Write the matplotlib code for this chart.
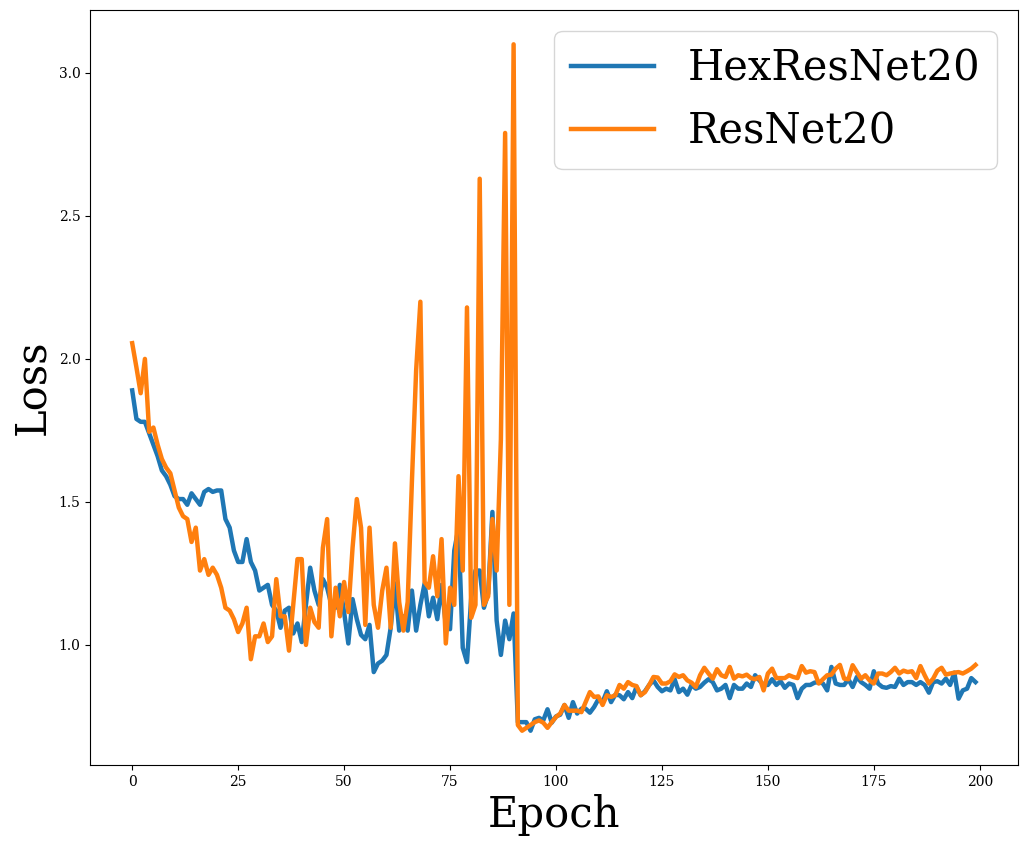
import matplotlib
matplotlib.use("Agg")
import matplotlib.pyplot as plt
import numpy as np

plt.rcParams['font.family'] = ['DejaVu Serif']

epochs = list(range(200))

hex_resnet20 = [
    1.89, 1.79, 1.78, 1.78, 1.74, 1.70, 1.66, 1.61, 1.59, 1.56,
    1.52, 1.51, 1.51, 1.49, 1.53, 1.51, 1.49, 1.535, 1.545, 1.535,
    1.54, 1.54, 1.44, 1.41, 1.33, 1.29, 1.29, 1.37, 1.29, 1.26,
    1.19, 1.20, 1.21, 1.14, 1.12, 1.06, 1.12, 1.13, 1.04, 1.075,
    1.01, 1.14, 1.27, 1.19, 1.14, 1.23, 1.20, 1.14, 1.13, 1.21,
    1.115, 1.005, 1.16, 1.09, 1.035, 1.02, 1.07, 0.905, 0.935, 0.945,
    0.965, 1.06, 1.215, 1.05, 1.10, 1.05, 1.19, 1.05, 1.14, 1.215,
    1.10, 1.165, 1.09, 1.21, 1.07, 1.055, 1.33, 1.41, 0.99, 0.94,
    1.165, 1.26, 1.26, 1.13, 1.18, 1.465, 1.085, 0.965, 1.085, 1.02,
    1.11, 0.73, 0.73, 0.73, 0.70, 0.74, 0.745, 0.736, 0.775, 0.728,
    0.75, 0.756, 0.79, 0.745, 0.80, 0.76, 0.777, 0.777, 0.763, 0.783,
    0.81, 0.80, 0.838, 0.80, 0.826, 0.824, 0.81, 0.835, 0.814, 0.853,
    0.824, 0.838, 0.86, 0.876, 0.853, 0.838, 0.847, 0.841, 0.88, 0.835,
    0.847, 0.826, 0.86, 0.847, 0.853, 0.868, 0.88, 0.87, 0.841, 0.847,
    0.86, 0.814, 0.86, 0.847, 0.847, 0.865, 0.853, 0.894, 0.876, 0.86,
    0.86, 0.88, 0.86, 0.873, 0.85, 0.865, 0.86, 0.814, 0.847, 0.86,
    0.86, 0.868, 0.87, 0.865, 0.841, 0.923, 0.865, 0.86, 0.86, 0.88,
    0.853, 0.888, 0.87, 0.86, 0.847, 0.908, 0.865, 0.853, 0.85, 0.856,
    0.853, 0.882, 0.86, 0.87, 0.87, 0.86, 0.87, 0.86, 0.833, 0.87,
    0.873, 0.865, 0.882, 0.86, 0.903, 0.812, 0.841, 0.847, 0.884, 0.87,
]

resnet20 = [
    2.055, 1.97, 1.88, 2.00, 1.745, 1.76, 1.70, 1.65, 1.62, 1.60,
    1.54, 1.48, 1.45, 1.44, 1.36, 1.41, 1.26, 1.30, 1.245, 1.27,
    1.245, 1.20, 1.13, 1.12, 1.09, 1.045, 1.075, 1.13, 0.95, 1.03,
    1.03, 1.075, 1.01, 1.03, 1.23, 1.10, 1.10, 0.98, 1.14, 1.30,
    1.30, 1.00, 1.13, 1.08, 1.06, 1.34, 1.44, 1.03, 1.20, 1.10,
    1.22, 1.115, 1.34, 1.51, 1.41, 1.07, 1.41, 1.14, 1.06, 1.19,
    1.27, 1.06, 1.355, 1.15, 1.05, 1.15, 1.57, 1.96, 2.20, 1.22,
    1.20, 1.31, 1.17, 1.37, 1.005, 1.20, 1.14, 1.59, 1.26, 2.18,
    1.095, 1.14, 2.63, 1.14, 1.17, 1.44, 1.26, 1.72, 2.79, 1.14,
    3.10, 0.72, 0.70, 0.71, 0.72, 0.73, 0.736, 0.728, 0.71, 0.73,
    0.748, 0.76, 0.79, 0.77, 0.77, 0.77, 0.765, 0.80, 0.835, 0.818,
    0.82, 0.79, 0.824, 0.818, 0.824, 0.86, 0.847, 0.87, 0.86, 0.856,
    0.824, 0.835, 0.86, 0.888, 0.886, 0.865, 0.865, 0.873, 0.897, 0.888,
    0.894, 0.876, 0.868, 0.853, 0.894, 0.92, 0.90, 0.882, 0.915, 0.894,
    0.888, 0.923, 0.882, 0.894, 0.89, 0.896, 0.884, 0.88, 0.888, 0.841,
    0.90, 0.917, 0.884, 0.884, 0.884, 0.894, 0.888, 0.884, 0.926, 0.903,
    0.908, 0.905, 0.865, 0.88, 0.894, 0.896, 0.917, 0.93, 0.882, 0.88,
    0.929, 0.905, 0.882, 0.894, 0.876, 0.865, 0.90, 0.90, 0.894, 0.905,
    0.92, 0.90, 0.91, 0.905, 0.908, 0.884, 0.926, 0.894, 0.865, 0.882,
    0.91, 0.92, 0.896, 0.90, 0.903, 0.905, 0.90, 0.908, 0.917, 0.93,
]

labels = ["HexResNet20", "ResNet20"]

fig = plt.figure(figsize=(10.29, 8.46), dpi=100)
ax = fig.add_axes([0.0875, 0.0957, 0.9015, 0.8925])
ax.plot(epochs, hex_resnet20, color="#1f77b4", lw=3.2, label=labels[0])
ax.plot(epochs, resnet20, color="#ff7f0e", lw=3.2, label=labels[1])
ax.set_xlabel("Epoch", fontsize=30)
ax.set_ylabel("Loss", fontsize=30)
ax.tick_params(labelsize=10)
ax.legend(loc="upper right", fontsize=30)
fig.savefig("out.png", dpi=100)
